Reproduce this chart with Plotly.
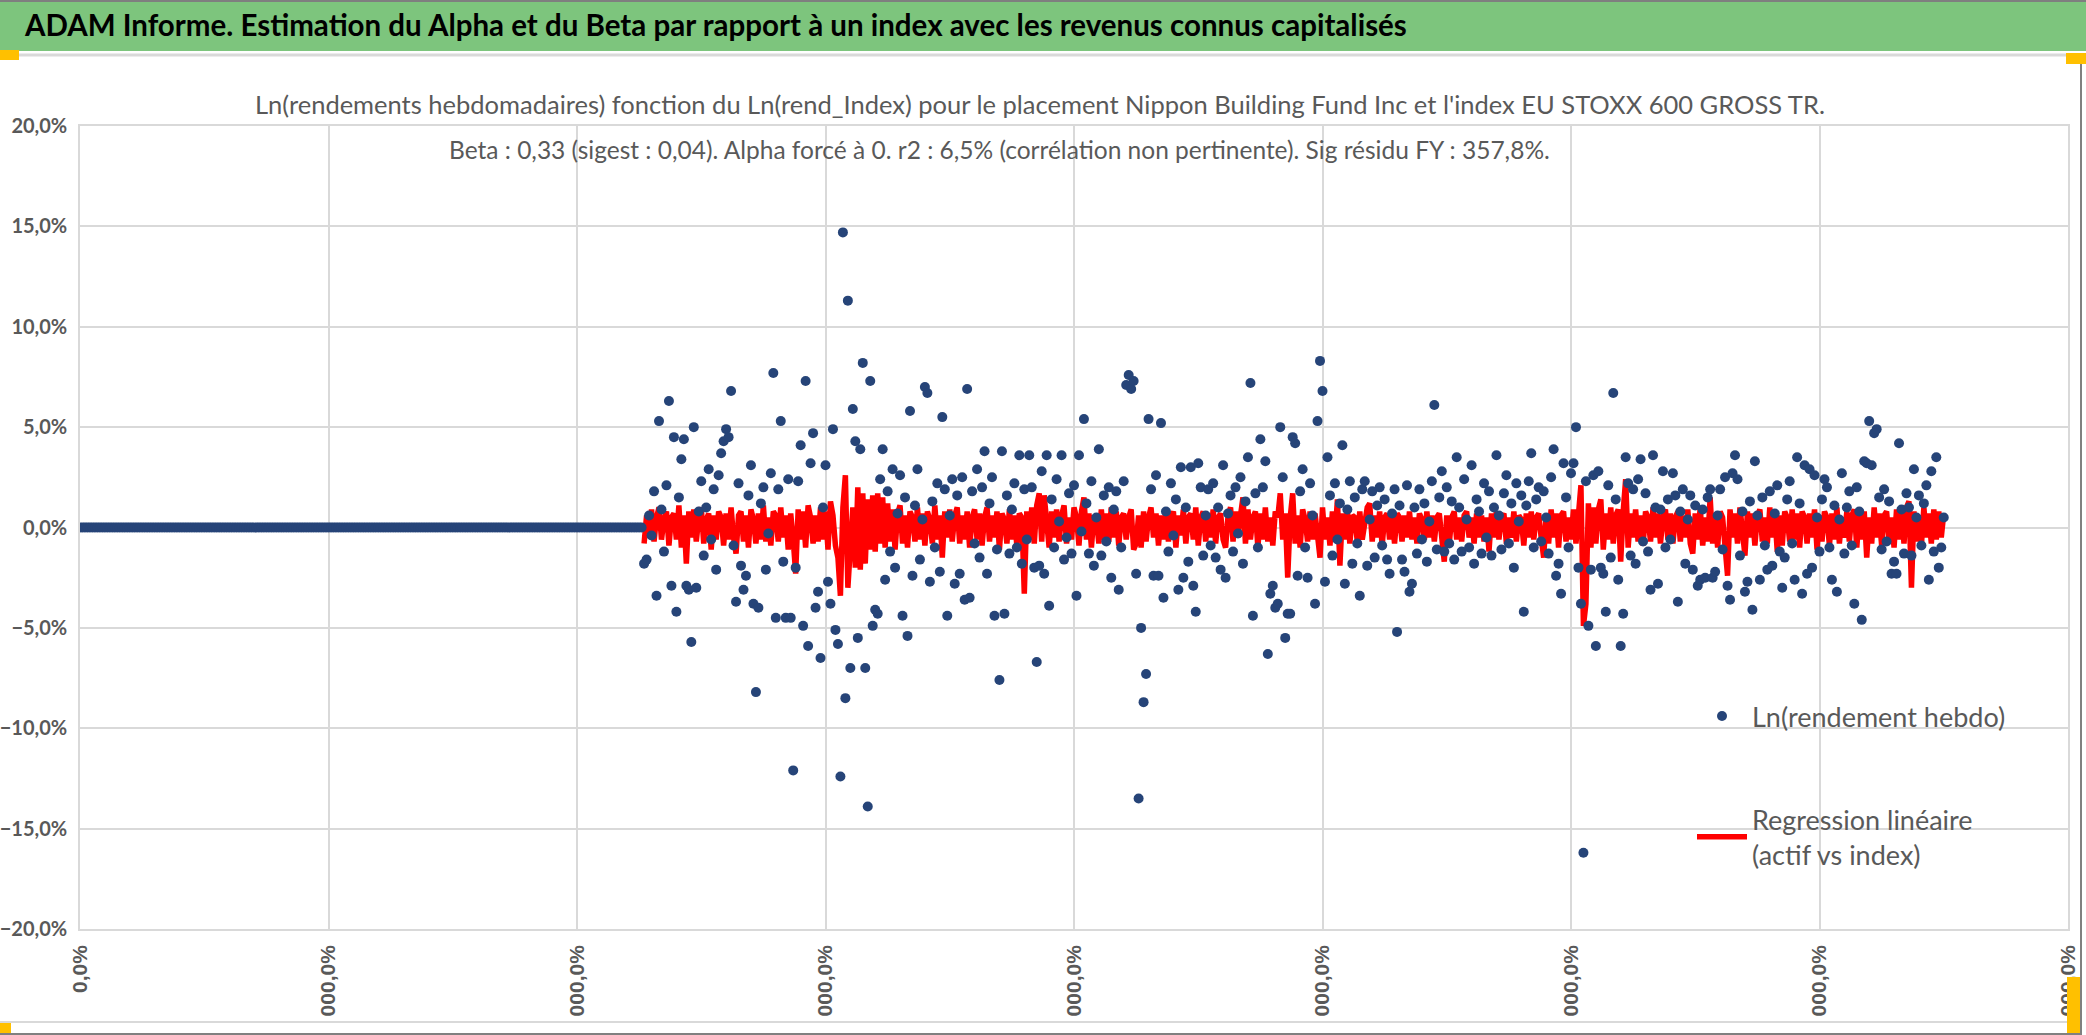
import plotly.graph_objects as go

# Ln(rendement hebdo) de l'actif, en %, semaines 227 -> 750
actif_pct = [
    -1.8, -1.6, 0.6, -0.4, 1.8, -3.4, 5.3, 0.9, -1.2, 2.1,
    6.3, -2.9, 4.5, -4.2, 1.5, 3.4, 4.4, -2.9, -3.1, -5.7,
    5.0, -3.0, 0.8, 2.3, -1.4, 1.0, 2.9, -0.6, 1.9, -2.1,
    2.6, 3.7, 4.3, 4.9, 4.5, 6.8, -0.9, -3.7, 2.2, -1.9,
    -3.1, -2.4, 1.6, 3.1, -3.8, -8.2, -4.0, 1.2, 2.0, -2.1,
    -0.3, 2.7, 7.7, -4.5, 1.9, 5.3, -1.7, -4.5, 2.4, -4.5,
    -12.1, -2.0, 2.3, 4.1, -4.9, 7.3, -5.9, 3.2, 4.7, -4.0,
    -3.2, -6.5, 1.0, 3.1, -2.7, -3.8, 4.9, -5.1, -5.8, -12.4,
    14.7, -8.5, 11.3, -7.0, 5.9, 4.3, -5.5, 3.9, 8.2, -7.0,
    -13.9, 7.3, -4.9, -4.1, -4.3, 2.4, 3.9, -2.6, 1.8, -1.2,
    2.9, -2.0, 0.7, 2.6, -4.4, 1.5, -5.4, 5.8, -2.4, 1.1,
    2.9, -1.6, 0.4, 7.0, 6.7, -2.7, 1.3, -1.0, 2.2, -2.2,
    5.5, 1.9, -4.4, 0.6, 2.4, -2.8, 1.6, -2.3, 2.5, -3.6,
    6.9, -3.5, 1.8, -0.8, 2.9, -1.5, 2.0, 3.8, -2.3, 1.2,
    2.5, -4.4, -1.1, -7.6, 3.8, -4.3, 1.6, -1.3, 0.9, 2.2,
    -1.0, 3.6, -1.8, 1.9, -0.6, 3.6, 2.0, -2.0, -6.7, -1.9,
    2.8, -2.3, 3.6, -3.9, 1.4, -1.0, 2.4, 0.3, 3.6, -1.6,
    -0.5, 1.7, -1.3, 2.1, -3.4, 3.6, -0.2, 5.4, 1.2, -1.3,
    2.3, -1.9, 0.5, 3.9, -1.4, 1.6, -0.7, 2.0, -2.5, 0.9,
    1.8, -3.1, -1.0, 2.3, 7.1, 7.6, 6.9, 7.3, -2.3, -13.5,
    -5.0, -8.7, -7.3, 5.4, 1.9, -2.4, 2.6, -2.4, 5.2, -3.5,
    0.8, -1.2, 2.2, -0.4, 1.4, -3.1, 3.0, -2.5, 1.0, -1.7,
    3.0, -2.9, -4.2, 3.2, 2.0, -1.4, 0.6, 1.9, -0.9, 2.2,
    -1.5, 1.0, -2.1, 3.1, -2.5, 0.7, 1.6, -1.2, 2.0, -0.3,
    2.5, -1.8, 1.3, 3.5, 7.2, -4.4, 1.7, -1.0, 4.4, 2.0,
    3.3, -6.3, -3.3, -2.9, -4.0, -3.8, 5.0, 2.5, -5.5, -4.3,
    -4.3, 4.5, 4.2, -2.4, 1.8, 2.9, -1.0, -2.5, 2.2, 0.6,
    -3.8, 5.3, 8.3, 6.8, -2.7, 3.5, 1.6, -1.4, 2.2, -0.6,
    1.2, 4.1, -2.8, 0.9, 2.3, -1.8, 1.5, -0.8, -3.4, 1.9,
    2.3, -1.9, 0.4, 1.8, -1.5, 1.1, 2.0, -0.9, 1.4, -1.6,
    -2.3, 0.7, 1.9, -5.2, 1.1, -1.6, -2.2, 2.1, -3.2, -2.8,
    1.0, -1.3, 1.9, -0.6, 1.2, -1.7, 0.3, 2.3, 6.1, -1.1,
    1.5, 2.8, -1.2, 2.0, -0.8, 1.3, -1.6, 3.5, 1.0, -1.2,
    2.4, 0.4, -1.0, 3.1, -1.8, 1.4, 0.8, -1.3, 2.2, -0.5,
    1.8, -1.4, 1.0, 3.6, 0.6, -1.1, 1.7, 2.6, -0.8, 1.2,
    -2.0, 2.2, 0.3, 1.6, -4.2, 1.1, 2.3, 3.7, -1.0, 1.4,
    2.0, -0.7, 1.8, 0.5, -1.3, 2.5, 3.9, -2.4, -1.8, -3.3,
    3.2, 1.5, -1.0, 2.7, 3.2, 5.0, -2.0, -3.8, -16.2, 2.3,
    -4.9, -2.1, 2.6, -5.9, 2.8, -2.0, -2.3, -4.2, 2.1, -1.5,
    6.7, 1.4, -2.6, -5.9, -4.3, 3.5, 2.2, -1.4, 1.9, -1.8,
    2.4, 3.4, -0.7, 1.7, -1.2, -3.1, 3.6, 1.0, -2.8, 0.9,
    2.8, -1.0, 1.4, -0.6, 2.7, 1.6, -3.7, 0.8, 1.9, -1.8,
    0.4, 1.6, -2.1, 1.1, -2.9, -2.6, 0.9, -2.5, 1.5, 1.9,
    -2.5, -2.2, 0.6, 1.9, -1.1, 2.5, -2.9, -3.6, 2.7, 3.6,
    2.4, -1.4, 0.8, -3.2, -2.7, 1.3, -4.1, 3.3, 0.6, -2.6,
    1.5, -0.9, -2.1, 1.8, -1.9, 0.7, 2.1, -1.2, -3.0, -1.5,
    1.4, 2.3, -0.8, -2.6, 3.5, 1.2, -3.3, 3.1, -2.3, 2.9,
    -2.0, 2.6, 0.5, -1.2, 1.4, 2.4, 2.0, -1.0, -2.6, 1.1,
    -3.2, 0.4, 2.7, -1.3, 1.0, 1.8, -0.9, -3.8, 2.0, 0.8,
    -4.6, 3.3, 3.2, 5.3, 3.1, 4.7, 4.9, 1.5, -1.1, 1.9,
    -0.7, 1.3, -2.3, -1.7, -2.3, 4.2, 0.9, -1.3, 1.7, 1.0,
    -1.4, 2.9, 0.5, 1.6, -0.9, 1.2, 2.1, -2.6, 2.8, -1.2,
    3.5, -2.0, -1.0, 0.5,
]

# regression lineaire (beta x rendement index), en %, memes semaines
regression_pct = [
    -0.8, 0.6, -0.5, 0.9, -0.7, 0.5, 1.0, -0.6, 0.4, 0.8,
    -0.9, 0.5, 0.7, -0.6, 1.1, -1.0, 0.6, -1.8, 0.8, -0.5,
    0.9, -0.7, 0.5, 1.0, -0.8, 0.4, 0.7, -1.1, 0.6, -0.6,
    0.8, 0.5, -0.9, 0.7, -0.6, 1.0, -0.5, -1.3, 0.6, 0.8,
    -0.7, 0.6, -1.0, 0.9, 0.4, -0.8, 0.7, -0.6, 1.1, -0.7,
    0.5, -0.9, 0.8, 0.6, -0.7, 1.0, -0.5, 0.6, -1.1, 0.7,
    -0.6, -2.3, 0.9, -0.6, 0.8, -1.0, 1.1, 0.5, -0.8, 0.6,
    -0.7, 1.0, -0.6, 0.8, -1.1, 1.3, 0.6, -0.9, -1.5, -3.4,
    1.0, 2.6, -3.0, -1.2, 1.0, -2.0, 2.0, -2.1, 1.7, -1.8,
    1.4, -1.1, 1.6, -1.2, 1.7, -0.8, 1.5, -1.0, 1.2, -0.7,
    0.9, -1.1, 0.7, 1.1, -0.8, 0.6, -1.0, 0.8, 0.5, -0.7,
    1.0, -0.6, 0.7, -0.9, 0.8, 0.4, -0.8, 1.1, -0.6, 0.6,
    -1.5, 0.8, -0.5, 0.9, -0.7, 0.6, 1.0, -0.8, 0.6, -0.6,
    0.8, -1.0, 0.5, 0.9, -0.6, 0.7, -0.9, 0.5, 1.0, -0.7,
    0.6, -0.5, 0.8, -1.1, 0.7, 0.4, -0.8, 0.9, -0.6, 0.6,
    -0.9, 0.7, 0.5, -3.3, 0.8, -0.6, 1.0, -0.8, 1.1, 1.7,
    -0.7, 1.6, 0.5, -1.0, 0.8, -0.5, 0.9, -0.7, 0.6, 1.1,
    -0.8, 0.5, -0.6, 1.0, 0.5, -0.9, 0.8, 1.5, -0.6, 0.7,
    -1.0, 0.6, 0.4, -0.8, 0.9, -0.6, 0.7, -0.7, 1.0, -0.5,
    0.8, -0.9, 0.5, 0.7, -0.6, 0.5, 0.9, -1.1, -0.8, 0.6,
    -1.0, 0.8, -0.7, 0.5, 1.0, -0.5, 0.7, -0.9, 0.6, -0.6,
    0.9, -0.7, 0.5, 0.8, -1.0, 0.6, -0.4, 0.9, -0.8, 0.5,
    0.7, -0.6, 1.0, -0.9, 0.5, 0.8, -0.7, 0.6, -0.5, 0.9,
    -0.8, 0.5, 0.7, -0.6, -1.0, 0.6, 1.0, -0.7, 0.8, -0.5,
    0.6, 1.5, -0.8, 0.9, -0.6, 0.5, 0.8, -1.0, 0.7, -0.6,
    1.0, -0.7, 0.5, -0.9, 0.8, 0.5, 1.7, -0.6, 0.7, -2.5,
    0.5, 1.7, -0.8, 0.6, -1.0, 0.9, 0.4, -0.7, 0.8, -0.6,
    0.7, -0.8, -1.5, 1.0, -0.6, 0.5, -0.9, 0.8, -0.5, 1.4,
    -1.9, 0.7, -0.6, 0.9, -0.8, 0.6, 0.5, -0.7, 0.8, -0.6,
    0.5, 1.0, 1.2, -0.7, 0.6, -0.5, 0.8, -0.9, 0.5, 0.7,
    -0.6, 0.5, -0.8, 0.7, 0.5, -0.7, 0.6, -0.5, 0.8, -0.6,
    0.5, -0.8, 0.7, 0.4, -0.6, 0.8, -0.5, 0.6, -0.7, 0.5,
    0.7, -0.5, -1.7, 0.6, -0.8, 0.5, 0.8, -0.6, 0.5, -0.7,
    0.6, 0.8, -0.5, 0.5, -0.8, 0.7, -0.5, 0.6, -0.7, 0.5,
    -1.2, 0.7, -0.5, 0.8, -0.6, 0.5, 0.7, -0.8, 0.5, -0.5,
    0.8, -0.7, 0.6, 0.4, -0.9, 0.7, -0.5, 0.8, -0.6, 0.5,
    0.7, -0.5, -1.5, 0.6, -0.8, 0.9, -0.5, 0.7, -1.0, 0.6,
    0.8, -0.7, 0.5, -0.6, 0.9, -0.8, 0.7, 2.1, -4.9, -3.8,
    1.2, -1.0, 1.0, -0.8, 0.9, 1.4, -1.1, 0.7, -0.6, 1.0,
    -0.8, 0.6, 0.9, -1.7, 0.8, 2.4, -1.0, 0.7, -0.5, 0.9,
    -0.7, 0.6, -0.9, 0.8, 0.5, -0.7, 1.0, -0.5, 0.7, -0.8,
    0.5, 0.9, -0.6, 0.7, -0.8, 0.5, 0.8, -0.7, 0.6, -0.5,
    0.9, -0.8, -1.3, 0.7, -0.6, 1.0, -0.9, 0.5, -0.7, 1.5,
    -0.8, 0.6, -1.0, 0.8, 0.5, -0.7, -2.4, 0.9, -0.5, 0.7,
    -0.8, 1.0, -0.6, -1.4, 0.8, -0.5, 0.7, -0.9, 0.6, 0.9,
    -0.7, 0.5, -0.8, 1.0, -0.5, 0.7, -1.2, 0.6, -0.9, 0.8,
    0.5, -0.7, 0.9, -0.6, 0.7, -1.0, 0.8, 0.5, -0.8, 0.7,
    -0.5, 0.9, -1.1, 0.6, -0.7, 0.8, 0.5, -0.9, 0.7, -0.6,
    1.0, -0.8, 0.5, -0.5, 0.8, -0.7, 0.6, 0.9, -1.0, 0.7,
    -0.6, 0.8, -1.5, 0.5, -0.8, 1.0, -0.5, 0.7, -0.9, 0.6,
    0.8, -0.7, 0.5, -1.0, 0.9, -0.6, 0.7, -0.8, 1.0, 1.3,
    -3.0, 0.8, -0.7, 0.6, -0.9, 1.0, -0.5, 0.7, -0.8, 0.9,
    -0.6, 0.8, -0.5, 0.7,
]

# semaines sans historique : rendement nul
debut_historique = 227
x_ticks = [0, 100, 200, 300, 400, 500, 600, 700, 800]
# labels as they show under the axis (leading digits cut off by the frame)
x_tick_labels = ["0,0%", "000,0%", "000,0%", "000,0%", "000,0%",
                 "000,0%", "000,0%", "000,0%", "000,0%"]
y_ticks = [-0.20, -0.15, -0.10, -0.05, 0.0, 0.05, 0.10, 0.15, 0.20]

titre_bandeau = "ADAM Informe. Estimation du Alpha et du Beta par rapport à un index avec les revenus connus capitalisés"
titre_1 = "Ln(rendements hebdomadaires) fonction du Ln(rend_Index) pour le placement Nippon Building Fund Inc et l'index EU STOXX 600 GROSS TR."
titre_2 = "Beta : 0,33 (sigest : 0,04). Alpha forcé à 0. r2 : 6,5% (corrélation non pertinente). Sig résidu FY : 357,8%."

FONT = "Lato, Liberation Sans, sans-serif"
GREY = "#595959"
W, H = 2086, 1035

semaines_actif = list(range(debut_historique, debut_historique + len(actif_pct)))
semaines = list(range(0, debut_historique)) + semaines_actif
ln_rend = [0.0] * debut_historique + [v / 100 for v in actif_pct]
regression = [v / 100 for v in regression_pct]

fig = go.Figure()

# excel draws the line under the markers
fig.add_trace(go.Scatter(
    x=semaines_actif, y=regression, mode="lines",
    name="Regression linéaire<br>(actif vs index)",
    line=dict(color="#FF0000", width=5.5),
    legendgroup="reg", legendrank=2,
))
fig.add_trace(go.Scatter(
    x=semaines, y=ln_rend, mode="markers",
    name="Ln(rendement hebdo)",
    marker=dict(color="#264478", size=10),
    legendgroup="ln", legendrank=1,
))


def px_x(px):
    return px / W


def px_y(px):
    return 1 - px / H


shapes = [
    # green banner
    dict(type="rect", xref="paper", yref="paper", x0=0, x1=1, y0=px_y(51), y1=1,
         fillcolor="#7DC57D", line=dict(width=0), layer="below"),
    dict(type="line", xref="paper", yref="paper", x0=0, x1=1, y0=px_y(1), y1=px_y(1),
         line=dict(color="#7F7F7F", width=2)),
    dict(type="line", xref="paper", yref="paper", x0=0, x1=1, y0=px_y(55), y1=px_y(55),
         line=dict(color="#D9D9D9", width=3)),
    # frame at the bottom and right
    dict(type="line", xref="paper", yref="paper", x0=0, x1=px_x(2081), y0=px_y(1022), y1=px_y(1022),
         line=dict(color="#D9D9D9", width=2), layer="above"),
    dict(type="line", xref="paper", yref="paper", x0=0, x1=px_x(2081), y0=px_y(1034), y1=px_y(1034),
         line=dict(color="#808080", width=2), layer="above"),
    dict(type="line", xref="paper", yref="paper", x0=px_x(2081), x1=px_x(2081), y0=0, y1=px_y(57),
         line=dict(color="#808080", width=2), layer="above"),
    # yellow selection handles
    dict(type="rect", xref="paper", yref="paper", x0=0, x1=px_x(19), y0=px_y(60), y1=px_y(50),
         fillcolor="#FFC000", line=dict(width=0), layer="above"),
    dict(type="rect", xref="paper", yref="paper", x0=px_x(2066), x1=1, y0=px_y(64), y1=px_y(53),
         fillcolor="#FFC000", line=dict(width=0), layer="above"),
    dict(type="rect", xref="paper", yref="paper", x0=0, x1=px_x(11), y0=px_y(1033), y1=px_y(1023),
         fillcolor="#FFC000", line=dict(width=0), layer="above"),
    dict(type="rect", xref="paper", yref="paper", x0=px_x(2067), x1=px_x(2080), y0=px_y(1033), y1=px_y(977),
         fillcolor="#FFC000", line=dict(width=0), layer="above"),
]

annotations = [
    dict(text=titre_bandeau, xref="paper", yref="paper", x=px_x(22), y=px_y(25),
         xanchor="left", yanchor="middle", showarrow=False,
         font=dict(family=FONT, size=29.5, color="black", weight="bold")),
    dict(text=titre_1, xref="paper", yref="paper", x=px_x(1040), y=px_y(104),
         xanchor="center", yanchor="middle", showarrow=False,
         font=dict(family=FONT, size=25.5, color=GREY)),
    dict(text=titre_2, xref="paper", yref="paper", x=px_x(999), y=px_y(150),
         xanchor="center", yanchor="middle", showarrow=False,
         font=dict(family=FONT, size=24.5, color=GREY)),
]

fig.update_layout(
    width=W, height=H,
    margin=dict(l=0, r=0, t=0, b=0),
    paper_bgcolor="white", plot_bgcolor="white",
    separators=", ",
    showlegend=True,
    legend=dict(x=px_x(1692), y=px_y(692), xanchor="left", yanchor="top",
                bgcolor="rgba(0,0,0,0)", font=dict(family=FONT, size=27, color=GREY),
                tracegroupgap=65, itemwidth=50),
    shapes=shapes,
    annotations=annotations,
    xaxis=dict(
        domain=[px_x(80), px_x(2068)], range=[0, 800],
        tickvals=x_ticks, ticktext=x_tick_labels, tickangle=-90,
        tickfont=dict(family="Liberation Sans", size=21, color=GREY, weight="bold"),
        ticklabelstandoff=6,
        showgrid=True, gridcolor="#D9D9D9", gridwidth=1.5, zeroline=False,
        showline=True, linecolor="#D9D9D9", linewidth=1.5, mirror=True,
        automargin=False,
    ),
    yaxis=dict(
        domain=[px_y(929), px_y(126)], range=[-0.2, 0.2],
        tickvals=y_ticks, tickformat=".1%",
        tickfont=dict(family=FONT, size=20, color=GREY, weight="bold"),
        ticklabelstandoff=7,
        showgrid=True, gridcolor="#D9D9D9", gridwidth=1.5, zeroline=False,
        showline=True, linecolor="#D9D9D9", linewidth=1.5, mirror=True,
        automargin=False,
    ),
)

# drop the default body margin so the figure fills the window
fig.write_html("out.html", config={"displayModeBar": False},
               post_script="document.body.style.margin = '0';")
